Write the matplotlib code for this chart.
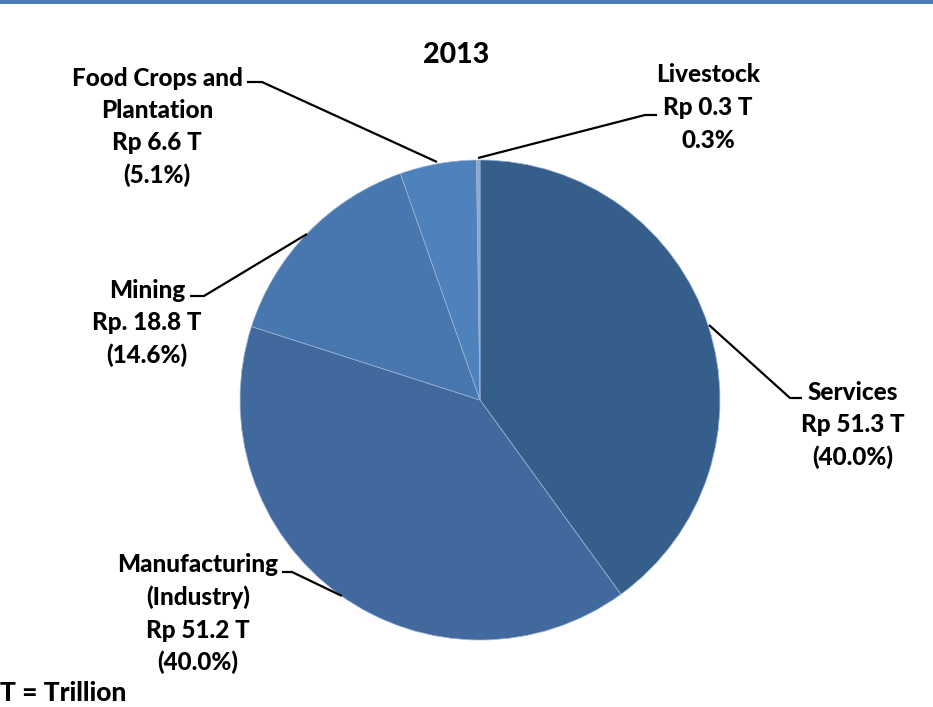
import matplotlib
matplotlib.use("Agg")
import matplotlib.pyplot as plt

plt.rcParams['font.family'] = ['Lato', 'DejaVu Sans']

# Sector values (Rp trillion), clockwise from 12 o'clock
sectors = ["Services", "Manufacturing (Industry)", "Mining",
           "Food Crops and Plantation", "Livestock"]
values = [51.3, 51.2, 18.8, 6.6, 0.3]
shares = ["40.0%", "40.0%", "14.6%", "5.1%", "0.3%"]
colors = ["#365e8b", "#41699d", "#4876ae", "#4f81bd", "#8ea7cf"]

label_lines = [
    ["Services", "Rp 51.3 T", "(40.0%)"],
    ["Manufacturing", "(Industry)", "Rp 51.2 T", "(40.0%)"],
    ["Mining", "Rp. 18.8 T", "(14.6%)"],
    ["Food Crops and", "Plantation", "Rp 6.6 T", "(5.1%)"],
    ["Livestock", "Rp 0.3 T", "0.3%"],
]

W, H = 933, 707
fig = plt.figure(figsize=(W / 100, H / 100), dpi=100)
ax = fig.add_axes([0, 0, 1, 1])


def Y(y):
    return H - y


cx, cy, r = 480, 400, 240
ax.pie(values, center=(cx, Y(cy)), radius=r, startangle=90,
       counterclock=False, colors=colors,
       wedgeprops=dict(edgecolor="#9fb5d6", linewidth=0.5))
ax.set_xlim(0, W)
ax.set_ylim(0, H)
ax.set_aspect("auto")
ax.axis("off")

# top rule
ax.axhspan(Y(4), Y(0), color="#4a7ebb", lw=0)

FS = 17.5
WT = "black"
ax.text(456, Y(55), "2013", ha="center", va="center",
        fontsize=20.5, fontweight=WT)

# label centre x, first-line y, and leader lines (pixel coords)
label_pos = [(853, 392), (198, 565), (147, 290), (157, 78), (708, 75)]
leaders = [
    [(709, 325), (790, 398), (802, 398)],
    [(342, 596), (292, 572), (282, 572)],
    [(307, 234), (204, 296), (190, 296)],
    [(437, 162), (262, 82), (247, 82)],
    [(478, 158), (645, 115), (657, 115)],
]
step = 32.5

for lines, (lx, ly), pts in zip(label_lines, label_pos, leaders):
    for i, line in enumerate(lines):
        ax.text(lx, Y(ly + i * step), line, ha="center", va="center",
                fontsize=FS, fontweight=WT)
    xs = [p[0] for p in pts]
    ys = [Y(p[1]) for p in pts]
    ax.plot(xs, ys, color="black", lw=1.6, solid_capstyle="butt")

ax.text(0, Y(693), "T = Trillion", ha="left", va="center",
        fontsize=19, fontweight=WT)

fig.savefig("out.png", dpi=100, facecolor="white")
